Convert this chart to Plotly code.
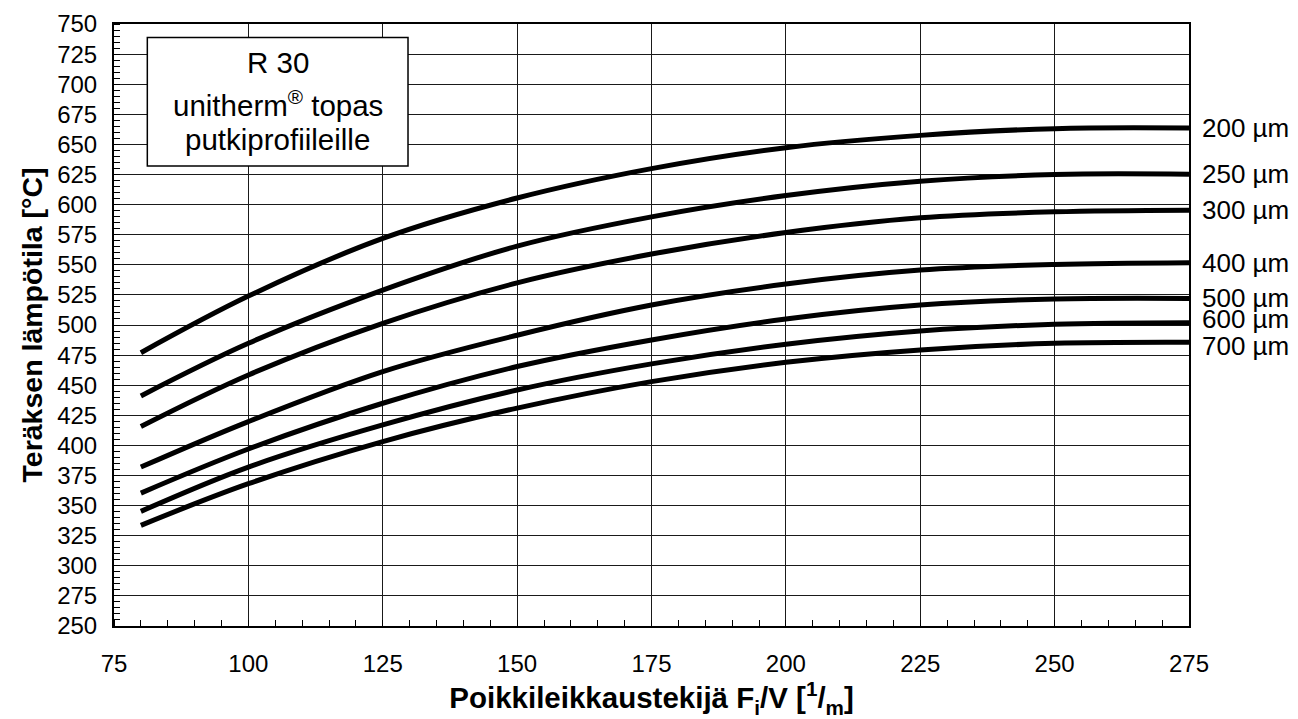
import plotly.graph_objects as go

# Data
section_factor = [80, 100, 125, 150, 175, 200, 225, 250, 275]
series_labels = ["200 µm", "250 µm", "300 µm", "400 µm", "500 µm", "600 µm", "700 µm"]
t_200 = [477.0, 524.0, 571.9, 605.5, 629.9, 647.3, 657.5, 663.1, 663.6]
t_250 = [441.1, 484.8, 529.0, 565.5, 589.8, 607.5, 619.4, 625.0, 625.2]
t_300 = [415.7, 458.5, 501.4, 535.0, 558.9, 576.8, 589.0, 594.0, 595.4]
t_400 = [382.0, 419.8, 461.3, 491.5, 516.6, 534.0, 545.6, 550.3, 551.7]
t_500 = [360.4, 397.0, 435.0, 465.5, 487.6, 505.0, 516.6, 521.6, 522.1]
t_600 = [345.2, 382.0, 417.0, 446.0, 467.7, 484.0, 495.0, 500.6, 501.9]
t_700 = [333.6, 368.2, 403.2, 431.0, 453.0, 469.0, 479.3, 484.8, 485.7]
series_values = [t_200, t_250, t_300, t_400, t_500, t_600, t_700]
label_yshift = [0, 0, 0, 0, 0, 4, -4]

x_ticks = list(range(75, 276, 25))
y_ticks = list(range(250, 751, 25))

FONT = "Arial, Liberation Sans, sans-serif"

fig = go.Figure()
for name, vals in zip(series_labels, series_values):
    fig.add_trace(go.Scatter(
        x=section_factor, y=vals, mode="lines", name=name,
        line=dict(color="black", width=5, shape="spline", smoothing=1.0),
        showlegend=False, hoverinfo="x+y+name",
    ))

annotations = []
for name, vals, ys in zip(series_labels, series_values, label_yshift):
    annotations.append(dict(
        x=section_factor[-1], y=vals[-1], xref="x", yref="y",
        text=name, showarrow=False, xanchor="left", yanchor="middle",
        xshift=11, yshift=ys, font=dict(family=FONT, size=26, color="black"),
    ))

# Info box
box_lines = ["R 30", "unitherm<sup>®</sup> topas", "putkiprofiileille"]
box_line_y = [718.0, 684.3, 654.4]
for txt, yy in zip(box_lines, box_line_y):
    annotations.append(dict(
        x=105.5, y=yy, xref="x", yref="y", text=txt, showarrow=False,
        xanchor="center", yanchor="middle",
        font=dict(family=FONT, size=29.5, color="black"),
    ))

fig.add_shape(type="rect", xref="x", yref="y",
              x0=81.2, x1=129.7, y0=632.0, y1=738.8,
              line=dict(color="black", width=1.5), fillcolor="white", layer="above")

axis_common = dict(
    showline=True, linecolor="black", linewidth=2, mirror=True,
    showgrid=True, gridcolor="#1a1a1a", gridwidth=1,
    zeroline=False, ticks="", automargin=False,
    tickfont=dict(family=FONT, size=24, color="black"),
)

fig.update_layout(
    width=1298, height=719,
    paper_bgcolor="white", plot_bgcolor="white",
    margin=dict(l=106, r=117.4, t=16, b=101),
    annotations=annotations,
    xaxis=dict(
        range=[75, 275], tickvals=x_ticks, ticktext=[str(v) for v in x_ticks],
        minor=dict(dtick=5, tick0=75, ticks="inside", ticklen=6, tickcolor="black", showgrid=False),
        ticklabelstandoff=15,
        title=dict(text="<b>Poikkileikkaustekijä F<sub>i</sub>/V [<sup>1</sup>/<sub>m</sub>]</b>",
                   font=dict(family=FONT, size=29.5, color="black"), standoff=12),
        **axis_common,
    ),
    yaxis=dict(
        range=[250, 750], tickvals=y_ticks, ticktext=[str(v) for v in y_ticks],
        minor=dict(dtick=5, tick0=250, ticks="inside", ticklen=6, tickcolor="black", showgrid=False),
        ticklabelstandoff=10,
        title=dict(text="<b>Teräksen lämpötila [°C]</b>",
                   font=dict(family=FONT, size=28.5, color="black"), standoff=6),
        **axis_common,
    ),
)

fig.write_html("out.html")
